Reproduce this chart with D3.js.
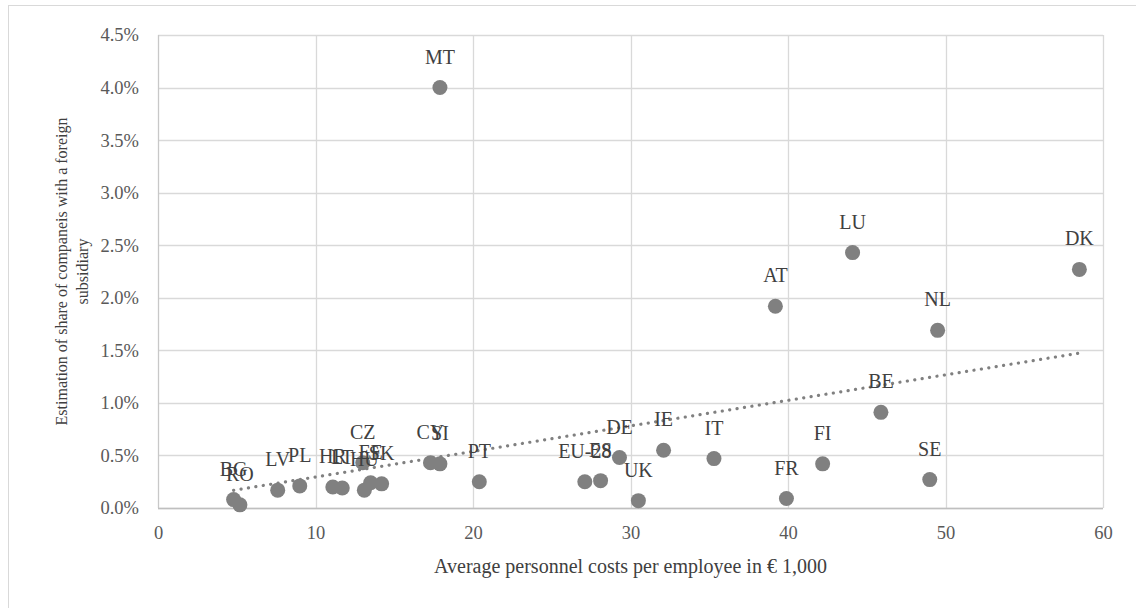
<!DOCTYPE html>
<html>
<head>
<meta charset="utf-8">
<script src="https://cdn.jsdelivr.net/npm/d3@7"></script>
<style>
  body { margin: 0; background: #fff; }
  svg, svg text { font-family: "Liberation Serif", "DejaVu Serif", serif !important; }
</style>
</head>
<body>
<svg id="chart" width="1136" height="608"></svg>
<script>
// country codes, personnel costs (k€) and share with foreign subsidiary (%)
const countries = ["BG","RO","LV","PL","HR","LT","CZ","HU","EE","SK","CY","SI","PT","EU-28","ES","DE","UK","IE","IT","FR","FI","BE","SE","NL","AT","LU","DK","MT"];
const costs     = [4.8, 5.2, 7.6, 9.0, 11.1, 11.7, 13.0, 13.1, 13.5, 14.2, 17.3, 17.9, 20.4, 27.1, 28.1, 29.3, 30.5, 32.1, 35.3, 39.9, 42.2, 45.9, 49.0, 49.5, 39.2, 44.1, 58.5, 17.9];
const shares    = [0.08, 0.03, 0.17, 0.21, 0.20, 0.19, 0.43, 0.17, 0.24, 0.23, 0.43, 0.42, 0.25, 0.25, 0.26, 0.48, 0.07, 0.55, 0.47, 0.09, 0.42, 0.91, 0.27, 1.69, 1.92, 2.43, 2.27, 4.00];
const xTicks = [0, 10, 20, 30, 40, 50, 60];
const yTicks = [0, 0.5, 1.0, 1.5, 2.0, 2.5, 3.0, 3.5, 4.0, 4.5];

const svg = d3.select("#chart");
const margin = { top: 35, right: 33, bottom: 100, left: 158 };
const width = 1136, height = 608;
const serif = '"Liberation Serif", "DejaVu Serif", serif';

// outer chart frame
svg.append("rect")
  .attr("x", 8.5).attr("y", 5.5)
  .attr("width", 1140).attr("height", 620)
  .attr("fill", "none").attr("stroke", "#d9d9d9");

const x = d3.scaleLinear().domain([0, 60]).range([margin.left, width - margin.right]);
const y = d3.scaleLinear().domain([0, 4.5]).range([height - margin.bottom, margin.top]);

// gridlines
svg.append("g").selectAll("line").data(yTicks).join("line")
  .attr("x1", x(0)).attr("x2", x(60))
  .attr("y1", d => Math.round(y(d)) + 0.5).attr("y2", d => Math.round(y(d)) + 0.5)
  .attr("stroke", "#d9d9d9").attr("stroke-width", 1.3);
svg.append("g").selectAll("line").data(xTicks).join("line")
  .attr("x1", d => Math.round(x(d)) + 0.5).attr("x2", d => Math.round(x(d)) + 0.5)
  .attr("y1", y(0)).attr("y2", y(4.5))
  .attr("stroke", d => d === 0 ? "#c8c8c8" : "#d9d9d9").attr("stroke-width", 1.3);
svg.append("line")
  .attr("x1", x(0)).attr("x2", x(60))
  .attr("y1", Math.round(y(0)) + 0.5).attr("y2", Math.round(y(0)) + 0.5)
  .attr("stroke", "#bfbfbf").attr("stroke-width", 1.5);

// axes (labels only)
const xAxis = svg.append("g")
  .attr("transform", `translate(0,${y(0)})`)
  .call(d3.axisBottom(x).tickValues(xTicks).tickSize(0).tickPadding(18).tickFormat(d3.format("d")));
const yAxis = svg.append("g")
  .attr("transform", `translate(${x(0)},0)`)
  .call(d3.axisLeft(y).tickValues(yTicks).tickSize(0).tickPadding(19).tickFormat(d => d.toFixed(1) + "%"));
[xAxis, yAxis].forEach(a => {
  a.select(".domain").remove();
  a.attr("font-family", null);
  a.selectAll("text").attr("fill", "#595959")
    .style("font-size", "18.5px").style("font-family", serif);
});

// linear trend line over the data
const mx = d3.mean(costs), my = d3.mean(shares);
const slope = d3.sum(costs, (c, i) => (c - mx) * (shares[i] - my)) / d3.sum(costs, c => (c - mx) ** 2);
const icpt = my - slope * mx;
const xr = d3.extent(costs);
svg.append("line")
  .attr("x1", x(xr[0])).attr("y1", y(icpt + slope * xr[0]))
  .attr("x2", x(xr[1])).attr("y2", y(icpt + slope * xr[1]))
  .attr("stroke", "#808080").attr("stroke-width", 3.2)
  .attr("stroke-dasharray", "0.1 7.4").attr("stroke-linecap", "round");

// points
const pts = costs.map((c, i) => ({ c, s: shares[i], name: countries[i] }));
svg.append("g").selectAll("circle").data(pts).join("circle")
  .attr("cx", d => x(d.c)).attr("cy", d => y(d.s))
  .attr("r", 7.5).attr("fill", "#808080");

// labels above points
svg.append("g").selectAll("text").data(pts).join("text")
  .attr("x", d => x(d.c)).attr("y", d => y(d.s) - 24)
  .attr("text-anchor", "middle")
  .style("font-size", "20px").attr("fill", "#404040")
  .text(d => d.name);

// axis titles
svg.append("text")
  .attr("x", (x(0) + x(60)) / 2).attr("y", 573)
  .attr("text-anchor", "middle").style("font-size", "20px").attr("fill", "#404040")
  .text("Average personnel costs per employee in € 1,000");

const yt = svg.append("text")
  .attr("transform", `translate(0,${(y(0) + y(4.5)) / 2}) rotate(-90)`)
  .attr("text-anchor", "middle").style("font-size", "16px").attr("fill", "#404040");
yt.append("tspan").attr("x", 0).attr("y", 67).text("Estimation of share of companeis with a foreign");
yt.append("tspan").attr("x", 0).attr("y", 88).text("subsidiary");
</script>
</body>
</html>
